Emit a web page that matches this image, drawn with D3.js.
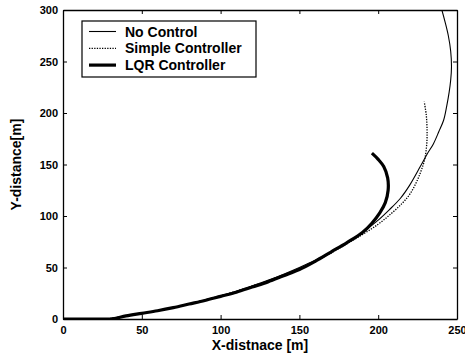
<!DOCTYPE html>
<html>
<head>
<meta charset="utf-8">
<script src="https://cdn.jsdelivr.net/npm/d3@7"></script>
<style>
  body { margin: 0; background: #fff; }
  text { font-family: "Liberation Sans", Arial, sans-serif; font-weight: bold; fill: #000; }
</style>
</head>
<body>
<div id="chart"></div>
<script>
// trajectories, [x, y] in metres
var noControl = [[0,0],[20,0],[30,0.5],[40,3],[50,5.5],[60,8],[70,11],[80,14.5],[90,18.5],[100,22.5],[110,27],[120,32],[130,37.5],[140,43.5],[150,50],[160,57],[170,65],[180,74],[190,84],[200,96],[207,106],[214,117],[220,130],[226.7,148],[231,160],[235,170],[238.5,182],[241.5,193],[243.5,207],[245,220],[246,232],[246.5,245],[246,260],[244.5,275],[242.5,288],[240.4,300],[238,312]];
var simpleCtrl = [[0,0],[20,0],[30,0.5],[40,3],[50,5.5],[60,8],[70,11],[80,14.5],[90,18.5],[100,22.5],[110,27],[120,32],[130,37],[140,43],[150,49],[160,56],[170,64],[180,73],[190,82],[200,92],[208,102],[215,112],[220,121],[224,132],[227,143],[229.5,155],[230.8,170],[231,184],[230.5,198],[229.2,211]];
var lqrCtrl = [[0,0],[20,0],[30,0],[40,3],[50,5.5],[60,8],[70,11],[80,14.5],[90,18],[100,22],[110,26],[120,31],[130,36],[140,42],[150,48],[160,56],[170,65],[180,74],[190,84],[196,93],[201,103],[204.5,113],[206.3,125],[206,137],[203.5,148],[200,155],[196,161]];
var seriesNames = ["No Control", "Simple Controller", "LQR Controller"];
var xTicks = [0, 50, 100, 150, 200, 250];
var yTicks = [0, 50, 100, 150, 200, 250, 300];

var width = 465, height = 357;
var mLeft = 63, mRight = 457, mTop = 10, mBottom = 319;

var svg = d3.select("#chart").append("svg")
  .attr("width", width)
  .attr("height", height);

var x = d3.scaleLinear().domain([0, 250]).range([mLeft, mRight]);
var y = d3.scaleLinear().domain([0, 300]).range([mBottom, mTop]);

svg.append("clipPath").attr("id", "clip")
  .append("rect")
  .attr("x", mLeft).attr("y", mTop)
  .attr("width", mRight - mLeft).attr("height", mBottom - mTop);

// axes, MATLAB style: ticks pointing inward on all four sides
svg.append("g").attr("transform", "translate(0," + mBottom + ")")
  .call(d3.axisBottom(x).tickValues(xTicks).tickSizeInner(-4).tickSizeOuter(0).tickPadding(7));
svg.append("g").attr("transform", "translate(0," + mTop + ")")
  .call(d3.axisTop(x).tickValues(xTicks).tickSizeInner(-4).tickSizeOuter(0).tickFormat(""));
svg.append("g").attr("transform", "translate(" + mLeft + ",0)")
  .call(d3.axisLeft(y).tickValues(yTicks).tickSizeInner(-4).tickSizeOuter(0).tickPadding(5));
svg.append("g").attr("transform", "translate(" + mRight + ",0)")
  .call(d3.axisRight(y).tickValues(yTicks).tickSizeInner(-4).tickSizeOuter(0).tickFormat(""));

svg.selectAll(".domain").attr("stroke", "#000").attr("stroke-width", 1.3);
svg.selectAll(".tick line").attr("stroke", "#000");
svg.selectAll(".tick text")
  .style("font-family", "'Liberation Sans', Arial, sans-serif")
  .style("font-weight", "bold")
  .style("font-size", "11px");

var line = d3.line()
  .x(function (d) { return x(d[0]); })
  .y(function (d) { return y(d[1]); })
  .curve(d3.curveCatmullRom);

var plot = svg.append("g").attr("clip-path", "url(#clip)");
plot.append("path").datum(noControl)
  .attr("fill", "none").attr("stroke", "#000").attr("stroke-width", 1.1)
  .attr("d", line);
plot.append("path").datum(simpleCtrl)
  .attr("fill", "none").attr("stroke", "#000").attr("stroke-width", 1.3)
  .attr("stroke-dasharray", "1.3,1.3")
  .attr("d", line);
plot.append("path").datum(lqrCtrl)
  .attr("fill", "none").attr("stroke", "#000").attr("stroke-width", 3.2)
  .attr("d", line);

// axis labels
svg.append("text")
  .attr("x", (mLeft + mRight) / 2).attr("y", 350)
  .attr("text-anchor", "middle")
  .style("font-size", "14px")
  .text("X-distnace [m]");
svg.append("text")
  .attr("transform", "translate(21," + (mTop + mBottom) / 2 + ") rotate(-90)")
  .attr("text-anchor", "middle")
  .style("font-size", "14px")
  .text("Y-distance[m]");

// legend
var legend = svg.append("g");
legend.append("rect")
  .attr("x", 82).attr("y", 21).attr("width", 174).attr("height", 56)
  .attr("fill", "#fff").attr("stroke", "#000").attr("stroke-width", 1.2);
var styles = [
  { w: 1.1, dash: null },
  { w: 1.3, dash: "1.3,1.3" },
  { w: 3.2, dash: null }
];
seriesNames.forEach(function (name, i) {
  var cy = 31.5 + i * 16.8;
  legend.append("line")
    .attr("x1", 89).attr("x2", 116).attr("y1", cy).attr("y2", cy)
    .attr("stroke", "#000").attr("stroke-width", styles[i].w)
    .attr("stroke-dasharray", styles[i].dash);
  legend.append("text")
    .attr("x", 125).attr("y", cy + 5)
    .style("font-size", "14px")
    .text(name);
});
</script>
</body>
</html>
